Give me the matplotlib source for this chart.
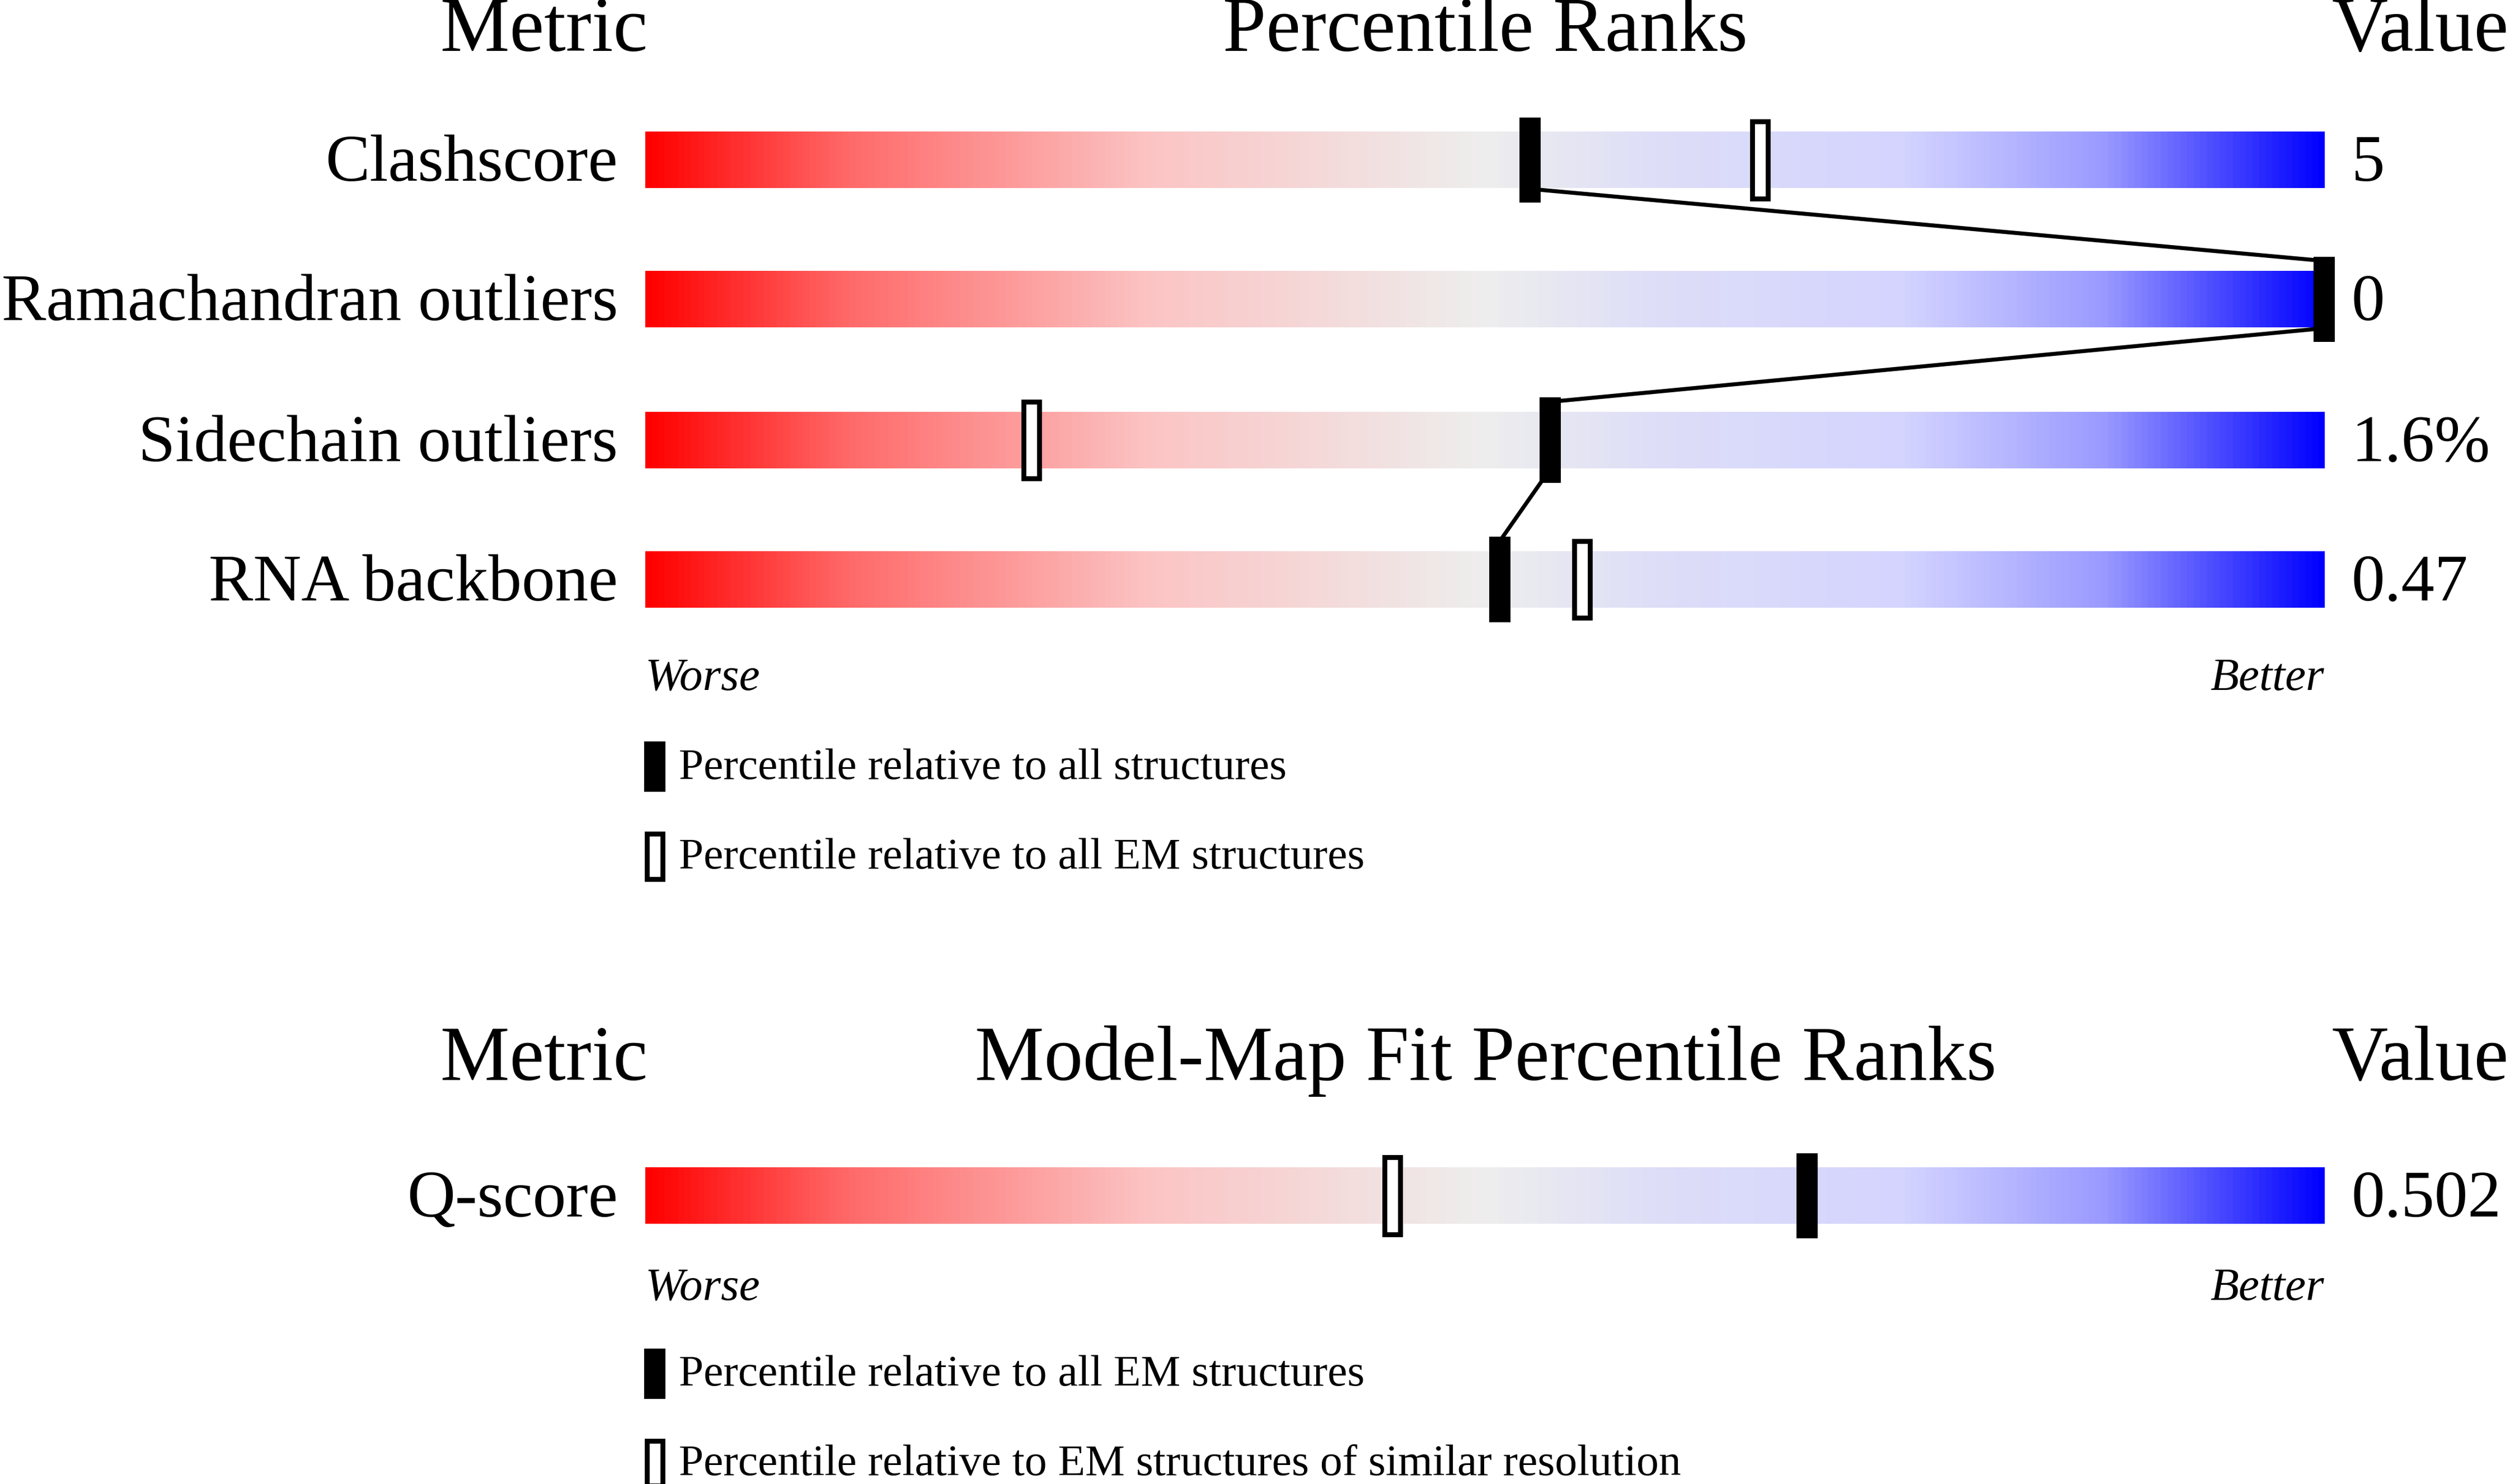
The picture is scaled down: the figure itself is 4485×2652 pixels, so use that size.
import matplotlib
matplotlib.use("Agg")
import matplotlib.pyplot as plt
import numpy as np
from matplotlib.colors import LinearSegmentedColormap
from matplotlib.patches import Rectangle

metrics = ["Clashscore", "Ramachandran outliers", "Sidechain outliers", "RNA backbone"]
values = ["5", "0", "1.6%", "0.47"]
pct_all = [52.7, 100.0, 53.9, 50.9]
pct_em = [66.4, None, 23.0, 55.8]

fit_metrics = ["Q-score"]
fit_values = ["0.502"]
fit_pct_all_em = [69.2]
fit_pct_similar = [44.5]

legend1 = ["Percentile relative to all structures", "Percentile relative to all EM structures"]
legend2 = ["Percentile relative to all EM structures", "Percentile relative to EM structures of similar resolution"]

W, H = 1568, 927
fig = plt.figure(figsize=(4485/286, 2652/286), dpi=286)
ax = fig.add_axes([0, 0, 1, 1])
ax.set_xlim(0, W); ax.set_ylim(H, 0); ax.axis("off")

font = "Liberation Serif"
cmap = LinearSegmentedColormap.from_list("q", [(0, "#ff0000"), (0.12, "#ff6a6a"), (0.3, "#fcc4c4"),
                                              (0.5, "#eeeeee"), (0.6, "#dedef8"), (0.75, "#d4d4ff"),
                                              (0.87, "#9a9aff"), (1, "#0000ff")])
grad = np.linspace(0, 1, 512)[None, :]
X0, X1 = 403, 1452
BH = 35
def px(p):
    return X0 + (X1 - X0) * p / 100.0

def bar(yc):
    ax.imshow(grad, cmap=cmap, aspect="auto", extent=(X0, X1, yc + BH/2, yc - BH/2), zorder=1)

def marker(p, yc, filled):
    if filled:
        ax.add_patch(Rectangle((px(p) - 6, yc - 26), 12, 52, fc="black", ec="black", lw=1, zorder=5))
    else:
        ax.add_patch(Rectangle((px(p) - 5, yc - 24), 10, 48, fc="white", ec="black", lw=2.2, zorder=4))

def header(y, mid):
    ax.text(340, y, "Metric", fontsize=35, family=font, ha="center", va="center")
    ax.text(928, y, mid, fontsize=35, family=font, ha="center", va="center")
    ax.text(1512, y, "Value", fontsize=35, family=font, ha="center", va="center")

def legend(y0, labels):
    for i, lab in enumerate(labels):
        y = y0 + i * 56
        if i == 0:
            ax.add_patch(Rectangle((403, y - 15), 12, 30, fc="black", ec="black", zorder=5))
        else:
            ax.add_patch(Rectangle((404, y - 14), 10, 28, fc="white", ec="black", lw=2.2, zorder=5))
        ax.text(424, y + 1, lab, fontsize=20, family=font, ha="left", va="center")

header(20, "Percentile Ranks")
ys = [100, 187, 275, 362]
for m, v, pa, pe, y in zip(metrics, values, pct_all, pct_em, ys):
    bar(y)
    ax.text(386, y + 3, m, fontsize=30, family=font, ha="right", va="center")
    ax.text(1469, y + 3, v, fontsize=30, family=font, ha="left", va="center")
    if pe is not None:
        marker(pe, y, False)
    marker(pa, y, True)
for i in range(len(ys) - 1):
    ax.plot([px(pct_all[i]), px(pct_all[i+1])], [ys[i] + 18, ys[i+1] - 24], color="black", lw=1.8, zorder=3)
ax.text(403, 424, "Worse", fontsize=21, family=font, style="italic", ha="left", va="center")
ax.text(1452, 424, "Better", fontsize=21, family=font, style="italic", ha="right", va="center")
legend(479, legend1)

header(663, "Model-Map Fit Percentile Ranks")
for m, v, pa, ps in zip(fit_metrics, fit_values, fit_pct_all_em, fit_pct_similar):
    y = 747
    bar(y)
    ax.text(386, y + 3, m, fontsize=30, family=font, ha="right", va="center")
    ax.text(1469, y + 3, v, fontsize=30, family=font, ha="left", va="center")
    marker(ps, y, False)
    marker(pa, y, True)
ax.text(403, 805, "Worse", fontsize=21, family=font, style="italic", ha="left", va="center")
ax.text(1452, 805, "Better", fontsize=21, family=font, style="italic", ha="right", va="center")
legend(858, legend2)

fig.savefig("out.png", dpi=286)
